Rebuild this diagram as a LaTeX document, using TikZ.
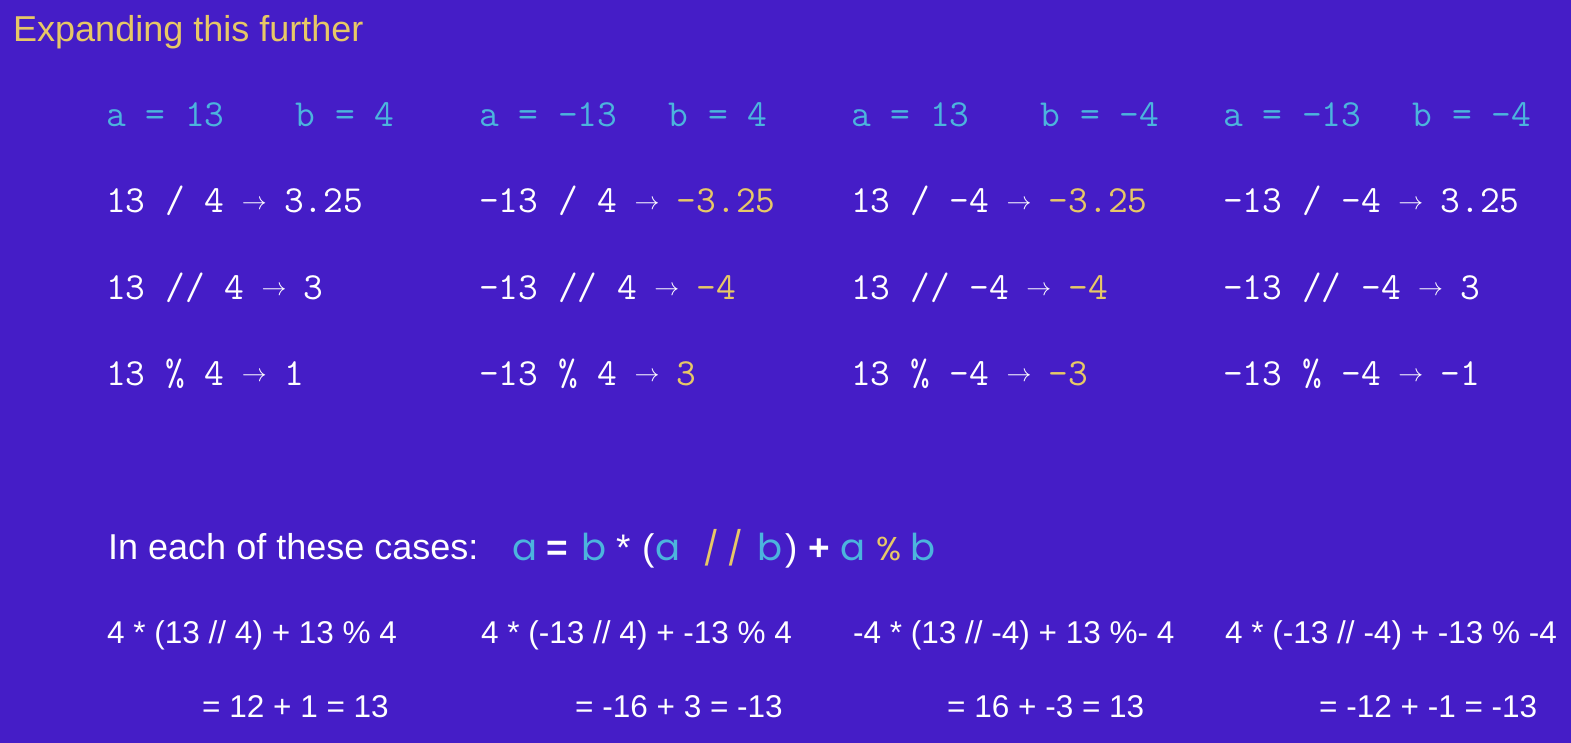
\documentclass[tikz,border=0pt]{standalone}
\usepackage{fontspec}
\setmainfont{Liberation Sans}
\newfontfamily\geofont{Poppins}
\usetikzlibrary{positioning}

\definecolor{slidebg}{RGB}{69,29,199}
\definecolor{varcyan}{RGB}{76,180,221}
\definecolor{hiyellow}{RGB}{231,200,102}

\newcommand{\mn}{\textendash}
\newcommand{\yields}{\makebox[0.525em]{\raisebox{3.5pt}{\fontsize{25}{25}\selectfont$\rightarrow$}}}
\newcommand{\gap}{~~~\kern12pt}

\begin{document}
\begin{tikzpicture}[x=1pt, y=-1pt, every node/.style={inner sep=0pt, anchor=base west, text=white},
    heading/.style={font=\fontsize{36}{40}\selectfont, text=hiyellow},
    code/.style={font=\ttfamily\fontsize{38.3}{40}\selectfont},
    given/.style={code, text=varcyan},
    plain/.style={font=\fontsize{36}{40}\selectfont},
    check/.style={font=\fontsize{31.5}{36}\selectfont},
    var/.style={font=\geofont\fontsize{37}{40}\selectfont, text=varcyan},
    sym/.style={font=\geofont\fontsize{33}{40}\selectfont, text=hiyellow},
    op/.style={font=\bfseries\fontsize{37}{40}\selectfont},
    paren/.style={font=\fontsize{37}{40}\selectfont}]

    % background, fixes the page size
    \fill[slidebg] (0,0) rectangle (1571,743);

    \node[heading] (head) at (13,42) {Expanding this further};

    % the four cases
    \node[given] (v1) at (106,127) {a = 13\gap b = 4};
    \node[given] (v2) at (479,127) {a = \mn13~~\kern12pt b = 4};
    \node[given] (v3) at (851,127) {a = 13\gap b = \mn4};
    \node[given] (v4) at (1223,127) {a = \mn13~~\kern12pt b = \mn4};

    % true division
    \node[code, below=86pt of v1.base west, anchor=base west] (d1) {13 / 4 \yields{} 3.25};
    \node[code, below=86pt of v2.base west, anchor=base west] (d2) {\mn13 / 4 \yields{} {\color{hiyellow}\mn3.25}};
    \node[code, below=86pt of v3.base west, anchor=base west] (d3) {13 / \mn4 \yields{} {\color{hiyellow}\mn3.25}};
    \node[code, below=86pt of v4.base west, anchor=base west] (d4) {\mn13 / \mn4 \yields{} 3.25};

    % floor division
    \node[code, below=86pt of d1.base west, anchor=base west] (f1) {13 // 4 \yields{} 3};
    \node[code, below=86pt of d2.base west, anchor=base west] (f2) {\mn13 // 4 \yields{} {\color{hiyellow}\mn4}};
    \node[code, below=86pt of d3.base west, anchor=base west] (f3) {13 // \mn4 \yields{} {\color{hiyellow}\mn4}};
    \node[code, below=86pt of d4.base west, anchor=base west] (f4) {\mn13 // \mn4 \yields{} 3};

    % modulo
    \node[code, below=86pt of f1.base west, anchor=base west] (m1) {13 \% 4 \yields{} 1};
    \node[code, below=86pt of f2.base west, anchor=base west] (m2) {\mn13 \% 4 \yields{} {\color{hiyellow}3}};
    \node[code, below=86pt of f3.base west, anchor=base west] (m3) {13 \% \mn4 \yields{} {\color{hiyellow}\mn3}};
    \node[code, below=86pt of f4.base west, anchor=base west] (m4) {\mn13 \% \mn4 \yields{} \mn1};

    % the identity
    \node[plain] (cases) at (108,559) {In each of these cases:};
    \foreach \px/\glyph/\sty [count=\i] in {512/a/var, 546/=/op, 581/b/var, 616/*/paren, 642/(/paren,
        655/a/var, 703/{/}/sym, 727/{/}/sym, 757/b/var, 785/)/paren, 808/+/op, 840/a/var, 876/\%/sym, 910/b/var}
        \node[\sty] (eq\i) at (\px,560) {\glyph};

    % worked checks
    \node[check] (e1) at (107,643) {4 * (13 // 4) + 13 \% 4};
    \node[check] (e2) at (481,643) {4 * (-13 // 4) + -13 \% 4};
    \node[check] (e3) at (853,643) {-4 * (13 // -4) + 13 \%- 4};
    \node[check] (e4) at (1225,643) {4 * (-13 // -4) + -13 \% -4};

    \node[check] (s1) at (202,717) {= 12 + 1 = 13};
    \node[check] (s2) at (575,717) {= -16 + 3 = -13};
    \node[check] (s3) at (947,717) {= 16 + -3 = 13};
    \node[check] (s4) at (1319,717) {= -12 + -1 = -13};
\end{tikzpicture}
\end{document}
